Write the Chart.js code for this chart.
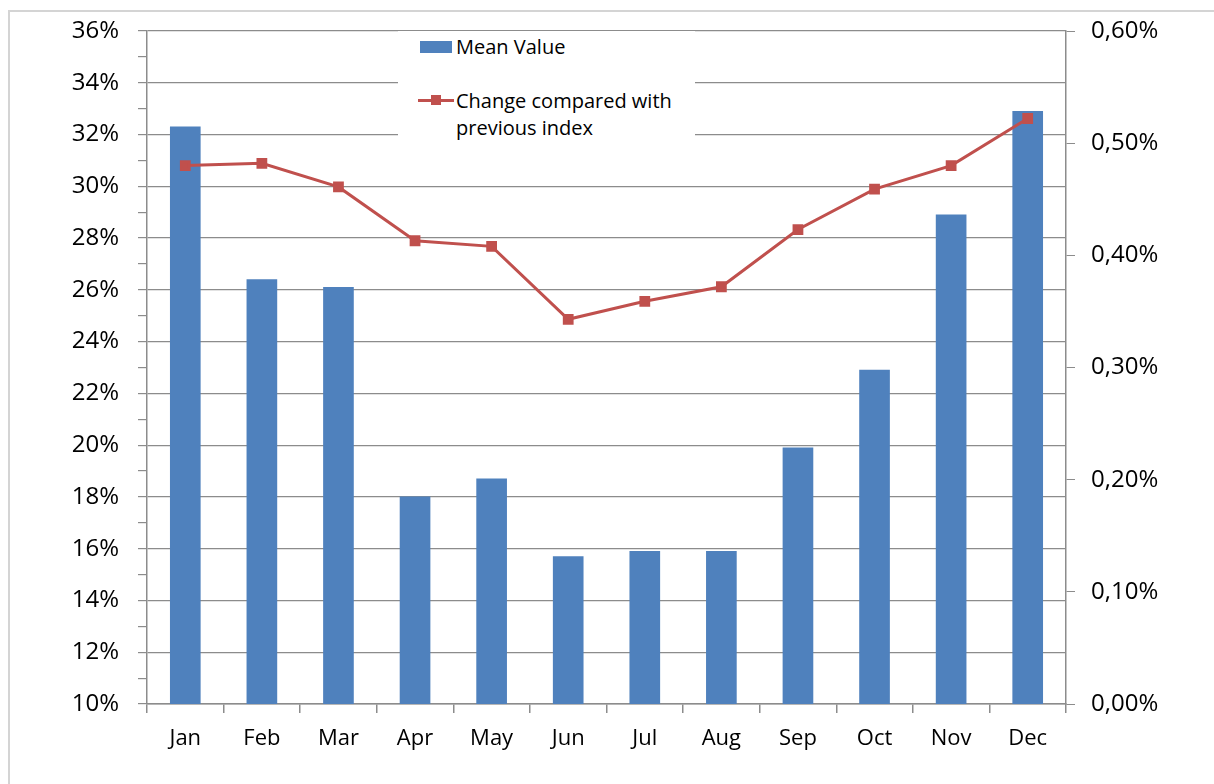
<!DOCTYPE html>
<html>
<head>
<meta charset="utf-8">
<script src="https://cdn.jsdelivr.net/npm/chart.js@4/dist/chart.umd.min.js"></script>
<style>
  html,body{margin:0;padding:0;background:#fff;}
  #wrap{position:relative;width:1214px;height:784px;overflow:hidden;}
  #frame{position:absolute;left:8px;top:10px;width:1230px;height:800px;border:2px solid #d4d4d4;pointer-events:none;}
  #legend{position:absolute;left:398px;top:31px;width:297px;height:118px;background:#fff;font-family:"Open Sans",Lato,sans-serif;font-size:20px;color:#000;}
  .sw-bar{position:absolute;left:22px;top:10px;width:32px;height:12px;background:#4f81bd;}
  .sw-line{position:absolute;left:20px;top:68px;width:36px;height:3px;background:#c0504d;}
  .sw-mark{position:absolute;left:33px;top:64px;width:10px;height:10px;background:#c0504d;}
  .lg-txt{position:absolute;left:58px;line-height:27px;}
</style>
</head>
<body>
<div id="wrap">
  <canvas id="ch" width="1214" height="784"></canvas>
  <div id="legend">
    <div class="sw-bar"></div>
    <div class="lg-txt" style="top:2px">Mean Value</div>
    <div class="sw-line"></div><div class="sw-mark"></div>
    <div class="lg-txt" style="top:56px">Change compared with<br>previous index</div>
  </div>
  <div id="frame"></div>
</div>
<script>
// Monatswerte
const months = ['Jan','Feb','Mar','Apr','May','Jun','Jul','Aug','Sep','Oct','Nov','Dec'];
const meanValue = [32.3, 26.4, 26.1, 18.0, 18.7, 15.7, 15.9, 15.9, 19.9, 22.9, 28.9, 32.9];
const changePrev = [0.480, 0.482, 0.461, 0.413, 0.408, 0.343, 0.359, 0.372, 0.423, 0.459, 0.480, 0.522];

const FONT = '"Open Sans", Lato, sans-serif';
const GRID = '#8c8c8c';

new Chart(document.getElementById('ch'), {
  type: 'bar',
  data: {
    labels: months,
    datasets: [
      { type:'line', label:'Change compared with previous index', data:changePrev, yAxisID:'y1',
        borderColor:'#c0504d', backgroundColor:'#c0504d', borderWidth:3, pointStyle:'rect',
        pointRadius:5.5, pointHoverRadius:5.5, tension:0, order:0 },
      { label:'Mean Value', data:meanValue, yAxisID:'y', backgroundColor:'#4f81bd',
        barThickness:30, order:1 }
    ]
  },
  options: {
    responsive:false, animation:false,
    layout:{ padding:{ top:29, left:0, right:0, bottom:0 } },
    plugins:{ legend:{display:false}, tooltip:{enabled:false} },
    scales:{
      x:{
        grid:{ offset:true, drawOnChartArea:false, tickLength:9, tickColor:GRID, lineWidth:1.5 },
        border:{ color:GRID, width:1.5 },
        ticks:{ color:'#000', font:{family:FONT, size:22}, padding:13, maxRotation:0 },
        afterFit(s){ s.height = 80; }
      },
      y:{
        position:'left', min:10, max:36,
        ticks:{ stepSize:1, autoSkip:false, color:'#000', font:{family:FONT, size:24, lineHeight:1}, padding:19,
          callback:v => (v % 2 === 0) ? v + '%' : '' },
        grid:{ color:c => (c.tick && c.tick.value % 2 === 0) ? GRID : 'rgba(0,0,0,0)', tickColor:GRID,
          tickLength:9, lineWidth:1.2 },
        border:{ color:GRID, width:1.5 },
        afterFit(s){ s.width = 147; }
      },
      y1:{
        position:'right', min:0, max:0.6,
        ticks:{ stepSize:0.1, color:'#000', font:{family:FONT, size:24, lineHeight:1}, padding:16,
          callback:v => v.toFixed(2).replace('.', ',') + '%' },
        grid:{ drawOnChartArea:false, tickColor:GRID, tickLength:9 },
        border:{ color:GRID, width:1.5 },
        afterFit(s){ s.width = 148; }
      }
    }
  }
});
</script>
</body>
</html>
